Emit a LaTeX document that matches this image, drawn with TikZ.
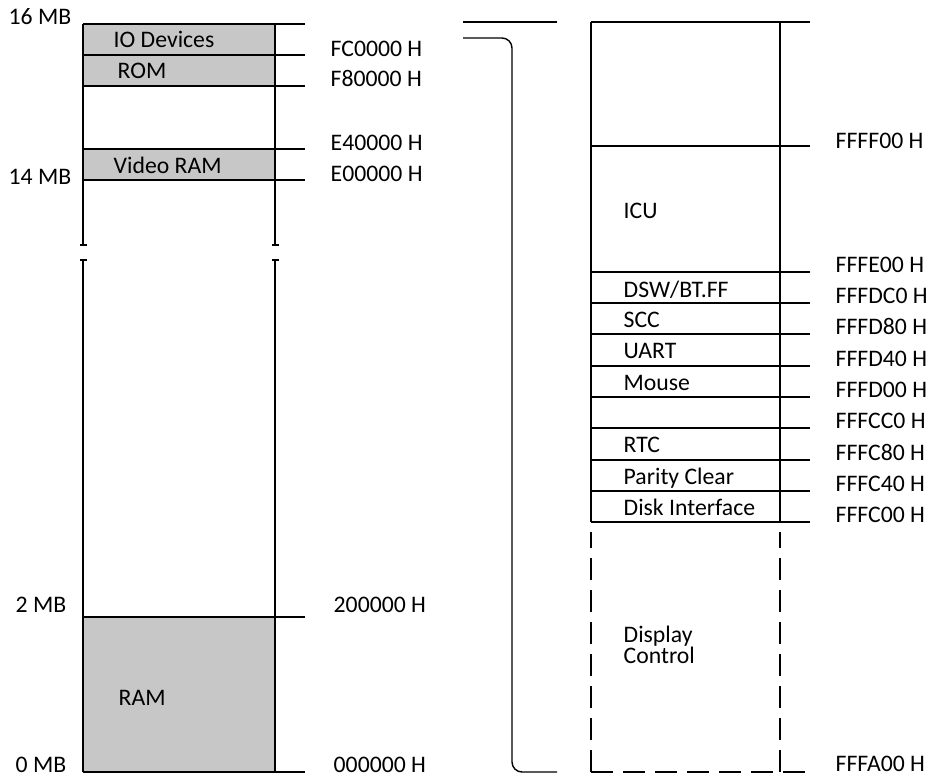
\documentclass[tikz,border=0pt]{standalone}
\usepackage{fontspec}
\setmainfont{Carlito}

\begin{document}
\begin{tikzpicture}[x=0.02cm,y=-0.02cm,line width=0.8pt,
  every node/.style={font=\fontsize{13.5}{15}\selectfont,inner sep=0pt,
    text height=0.65em,text depth=0pt},
  addr/.style={anchor=west},
  size/.style={anchor=east},
  area/.style={anchor=west},
  stipple/.style={fill=black!22,draw=none},
  gap/.style={dash pattern=on 12.5pt off 5.7pt}]
\useasboundingbox (0,0) rectangle (931,777);

% left column, 0 MB .. 16 MB
\fill[stipple] (83,24) rectangle (275,55);
\fill[stipple] (83,55) rectangle (275,86);
\fill[stipple] (83,149) rectangle (275,180);
\fill[stipple] (83,617) rectangle (275,772);
\draw (83,24)--(83,245);
\draw (275,24)--(275,245);
\draw (80,245)--(87,245);
\draw (272,245)--(279,245);
\draw (80,260)--(87,260);
\draw (272,260)--(279,260);
\draw (83,260)--(83,772);
\draw (275,260)--(275,772);
\draw (83,24)--(305,24);
\draw (83,55)--(305,55);
\draw (83,86)--(305,86);
\draw (83,149)--(305,149);
\draw (83,180)--(305,180);
\draw (83,617)--(305,617);
\draw (83,772)--(305,772);
\node[size] (mb16) at (72,19) {16 MB};
\node[size] (mb14) at (72,179) {14 MB};
\node[size] (mb2) at (67,607) {2 MB};
\node[size] (mb0) at (67,767) {0 MB};
\node[area] (io) at (113,42) {IO Devices};
\node[area] (rom) at (117,73) {ROM};
\node[area] (vram) at (113,168) {Video RAM};
\node[area] (ram) at (118,700) {RAM};
\node[addr] (fc) at (330,51) {FC0000 H};
\node[addr] (f8) at (330,81) {F80000 H};
\node[addr] (e4) at (330,145) {E40000 H};
\node[addr] (e0) at (330,176) {E00000 H};
\node[addr] (a2) at (333,607) {200000 H};
\node[addr] (a0) at (333,767) {000000 H};

% bracket
\draw (463,22)--(557,22);
\draw[rounded corners=2mm] (463,38)--(512,38)--(512,772)--(557,772);

% right column, FFFA00 .. top
\draw (591,22)--(591,522);
\draw (780,22)--(780,522);
\draw (591,22)--(810,22);
\draw (591,146)--(810,146);
\draw (591,272)--(810,272);
\draw (591,303)--(810,303);
\draw (591,334)--(810,334);
\draw (591,366)--(810,366);
\draw (591,397)--(810,397);
\draw (591,428)--(810,428);
\draw (591,460)--(810,460);
\draw (591,491)--(810,491);
\draw (591,522)--(810,522);
\draw[gap] (591,772)--(591,532);
\draw[gap] (780,772)--(780,532);
\draw[gap] (591,772)--(812,772);
\node[area] (icu) at (623,213) {ICU};
\node[area] (dsw) at (623,292) {DSW/BT.FF};
\node[area] (scc) at (623,322) {SCC};
\node[area] (uart) at (623,353) {UART};
\node[area] (mouse) at (623,385) {Mouse};
\node[area] (rtc) at (623,447) {RTC};
\node[area] (par) at (623,479) {Parity Clear};
\node[area] (disk) at (623,510) {Disk Interface};
\node[area] (disp) at (623,637) {Display};
\node[area] (ctrl) at (623,658) {Control};
\node[addr] (ff00) at (835,143) {FFFF00 H};
\node[addr] (fe00) at (835,267) {FFFE00 H};
\node[addr] (fdc0) at (835,298) {FFFDC0 H};
\node[addr] (fd80) at (835,329) {FFFD80 H};
\node[addr] (fd40) at (835,361) {FFFD40 H};
\node[addr] (fd00) at (835,392) {FFFD00 H};
\node[addr] (fcc0) at (835,423) {FFFCC0 H};
\node[addr] (fc80) at (835,455) {FFFC80 H};
\node[addr] (fc40) at (835,486) {FFFC40 H};
\node[addr] (fc00) at (835,517) {FFFC00 H};
\node[addr] (fa00) at (835,766) {FFFA00 H};
\end{tikzpicture}
\end{document}
